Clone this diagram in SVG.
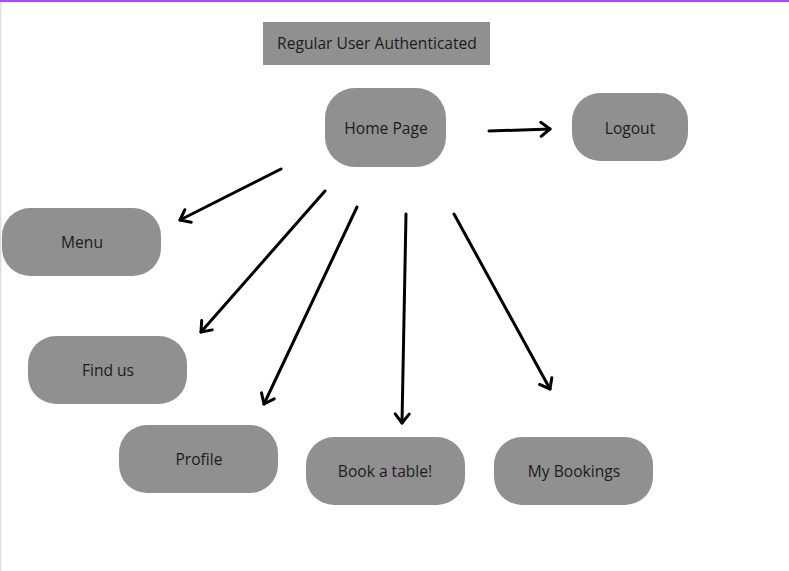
<svg xmlns="http://www.w3.org/2000/svg" width="789" height="571" viewBox="0 0 789 571">
<defs>
<style>
.node{fill:#909090;}
.lbl{font-family:"Open Sans","Noto Sans","Liberation Sans",sans-serif;font-size:15.6px;fill:#1c1c1c;text-anchor:middle;dominant-baseline:central;}
.conn{stroke:#000;stroke-width:3;fill:none;stroke-linecap:round;marker-end:url(#arr);}
</style>
<marker id="arr" markerUnits="userSpaceOnUse" viewBox="-12 -10 14 20" refX="0" refY="0" markerWidth="14" markerHeight="20" orient="auto">
<path d="M-9,-7 L0,0 L-9,7" fill="none" stroke="#000" stroke-width="3" stroke-linecap="round" stroke-linejoin="round"/>
</marker>
</defs>
<rect x="0" y="0" width="789" height="571" fill="#fff"/>
<rect x="0" y="0" width="789" height="2" fill="#9b4dff"/>
<rect x="0" y="2" width="1.5" height="569" fill="#e0e0e0"/>
<g id="title"><rect class="node" x="263" y="22" width="227" height="43"/><text class="lbl" x="377" y="43">Regular User Authenticated</text></g>
<g id="home"><rect class="node" x="325" y="88" width="121" height="79" rx="30"/><text class="lbl" x="386" y="128">Home Page</text></g>
<g id="logout"><rect class="node" x="572" y="93" width="116" height="68" rx="28"/><text class="lbl" x="630" y="128">Logout</text></g>
<g id="menu"><rect class="node" x="2" y="208" width="159" height="68" rx="28"/><text class="lbl" x="82" y="242">Menu</text></g>
<g id="findus"><rect class="node" x="28" y="336" width="159" height="68" rx="28"/><text class="lbl" x="108" y="370">Find us</text></g>
<g id="profile"><rect class="node" x="119" y="425" width="159" height="68" rx="28"/><text class="lbl" x="199" y="459">Profile</text></g>
<g id="book"><rect class="node" x="306" y="437" width="159" height="68" rx="28"/><text class="lbl" x="385" y="471">Book a table!</text></g>
<g id="mybookings"><rect class="node" x="494" y="437" width="159" height="68" rx="28"/><text class="lbl" x="574" y="471">My Bookings</text></g>
<g id="connectors">
<line class="conn" x1="489" y1="131" x2="550" y2="129"/>
<line class="conn" x1="281" y1="169" x2="180" y2="220"/>
<line class="conn" x1="325" y1="191" x2="201" y2="332"/>
<line class="conn" x1="357" y1="207" x2="264" y2="404"/>
<line class="conn" x1="406" y1="214" x2="402" y2="423"/>
<line class="conn" x1="454" y1="214" x2="550" y2="389"/>
</g>
</svg>
